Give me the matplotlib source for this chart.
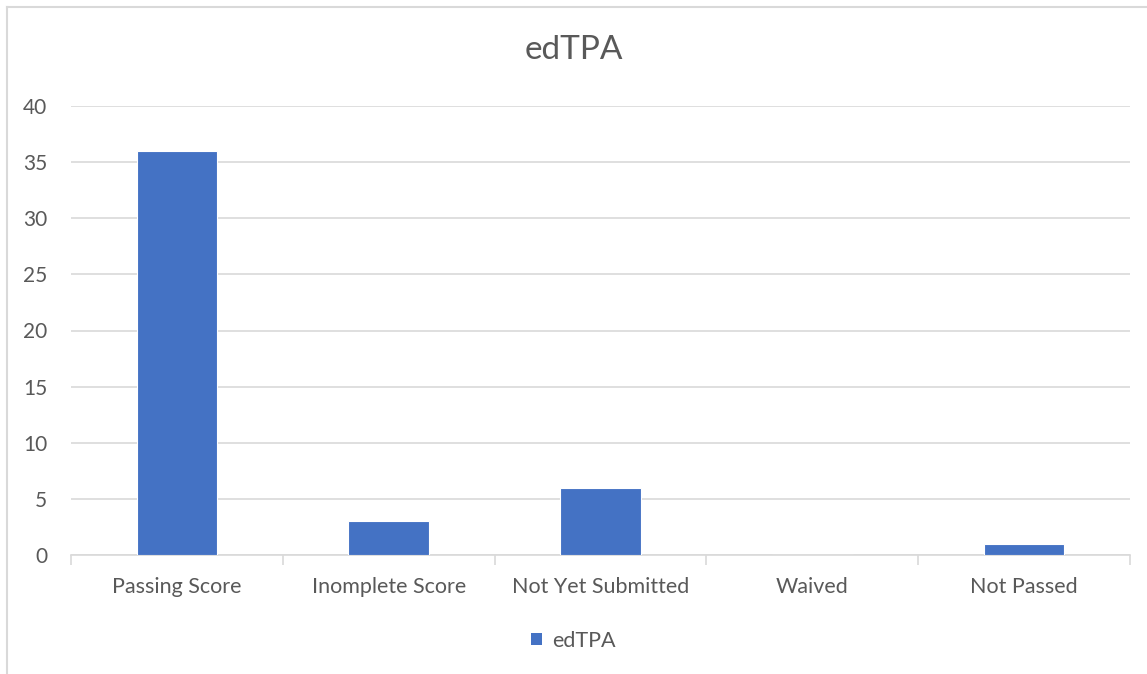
import matplotlib
matplotlib.use('Agg')
import matplotlib.pyplot as plt
from matplotlib.lines import Line2D
from matplotlib.patches import Patch

# ── Data ──────────────────────────────────────────────────
categories = ['Passing Score', 'Inomplete Score', 'Not Yet Submitted', 'Waived', 'Not Passed']
counts     = [36, 3, 6, 0, 1]
y_ticks    = [0, 5, 10, 15, 20, 25, 30, 35, 40]

bar_color  = '#4472C4'
text_color = '#595959'
grid_color = '#D9D9D9'

plt.rcParams['font.family'] = ['Lato', 'DejaVu Sans']

# ── Figure ────────────────────────────────────────────────
fig = plt.figure(figsize=(11.47, 6.74), dpi=100)
ax = fig.add_axes([71 / 1147, 1 - 555 / 674, (1130 - 71) / 1147, (555 - 106) / 674])

x = list(range(len(categories)))
ax.bar(x, counts, width=0.38, color=bar_color, edgecolor='white', linewidth=0.8, zorder=3)

ax.set_xlim(-0.5, len(categories) - 0.5)
ax.set_ylim(0, 40)
ax.set_yticks(y_ticks)
ax.yaxis.grid(True, color=grid_color, linewidth=1.2, zorder=0)
ax.tick_params(axis='y', length=0, labelsize=15, labelcolor=text_color, pad=17)

# category labels plus boundary ticks
ax.set_xticks(x)
ax.set_xticklabels(categories)
ax.tick_params(axis='x', length=0, labelsize=15.5, labelcolor=text_color, pad=16)
ax.set_xticks([i - 0.5 for i in range(len(categories) + 1)], minor=True)
ax.tick_params(axis='x', which='minor', length=7, color=grid_color, width=1.2)

for side in ['top', 'right', 'left']:
    ax.spines[side].set_visible(False)
ax.spines['bottom'].set_color(grid_color)
ax.spines['bottom'].set_linewidth(1.2)

fig.suptitle('edTPA', x=0.5, y=1 - 50 / 674, va='center', fontsize=24, color=text_color)

# legend
fig.legend(handles=[Patch(facecolor=bar_color, label='edTPA')], loc='center',
           bbox_to_anchor=(0.5, 1 - 641 / 674), frameon=False, fontsize=15.5,
           labelcolor=text_color, handlelength=0.5, handleheight=0.5, handletextpad=0.5)

# chart-area border (left and top edges visible)
fig.add_artist(Line2D([7 / 1147, 7 / 1147], [0, 1 - 7 / 674], color=grid_color, linewidth=1.5,
                      transform=fig.transFigure))
fig.add_artist(Line2D([7 / 1147, 1], [1 - 7 / 674, 1 - 7 / 674], color=grid_color, linewidth=1.5,
                      transform=fig.transFigure))

fig.savefig('out.png', dpi=100)
